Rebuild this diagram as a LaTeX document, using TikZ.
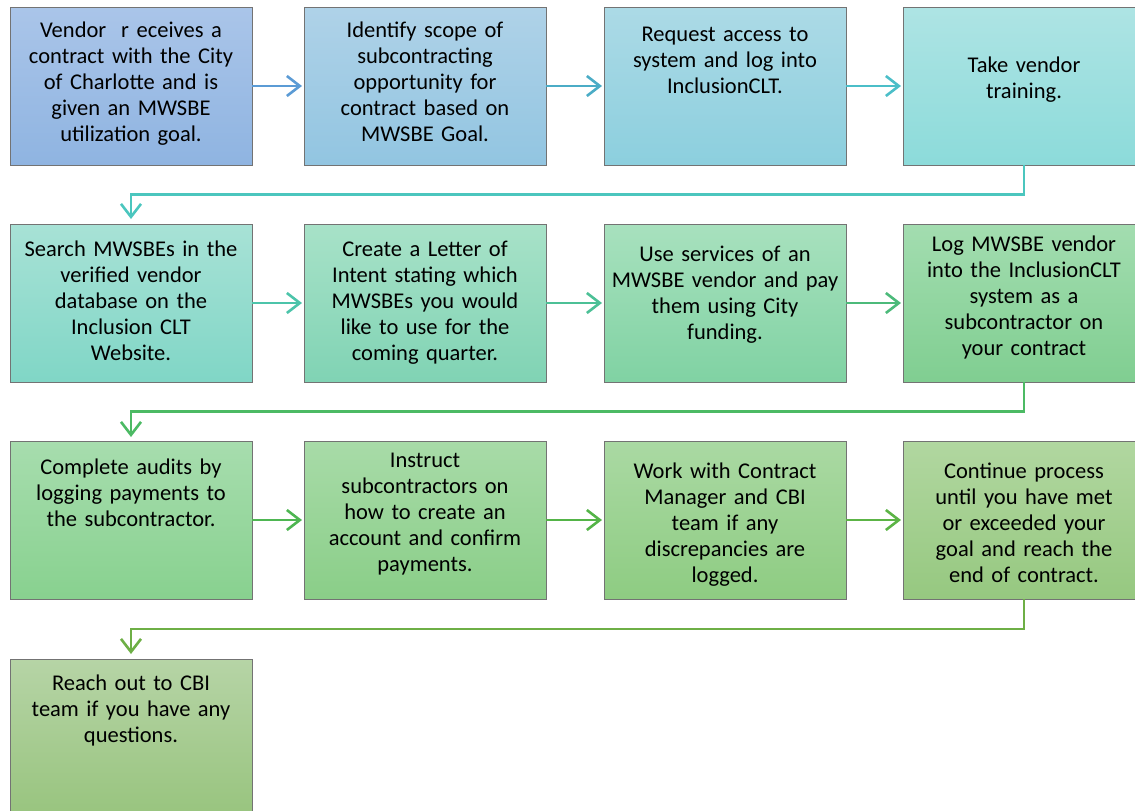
\documentclass[tikz,border=0pt]{standalone}
\usepackage{fontspec}
\setmainfont{Carlito}
\usepackage{tikz}
\usetikzlibrary{positioning,arrows.meta}

\definecolor{t1}{RGB}{170,197,233}\definecolor{u1}{RGB}{143,180,225}
\definecolor{t2}{RGB}{175,210,232}\definecolor{u2}{RGB}{146,197,225}
\definecolor{t3}{RGB}{172,218,230}\definecolor{u3}{RGB}{140,207,222}
\definecolor{t4}{RGB}{174,228,228}\definecolor{u4}{RGB}{140,219,218}
\definecolor{t5}{RGB}{168,226,214}\definecolor{u5}{RGB}{128,214,198}
\definecolor{t6}{RGB}{168,226,200}\definecolor{u6}{RGB}{128,211,180}
\definecolor{t7}{RGB}{168,225,190}\definecolor{u7}{RGB}{128,210,163}
\definecolor{t8}{RGB}{163,221,176}\definecolor{u8}{RGB}{128,206,145}
\definecolor{t9}{RGB}{167,221,174}\definecolor{u9}{RGB}{136,209,143}
\definecolor{t10}{RGB}{168,219,168}\definecolor{u10}{RGB}{138,206,136}
\definecolor{t11}{RGB}{170,217,163}\definecolor{u11}{RGB}{142,204,130}
\definecolor{t12}{RGB}{177,215,160}\definecolor{u12}{RGB}{150,200,128}
\definecolor{t13}{RGB}{182,212,166}\definecolor{u13}{RGB}{152,196,126}
\definecolor{a1}{RGB}{91,155,213}\definecolor{a2}{RGB}{75,172,198}
\definecolor{a3}{RGB}{75,190,200}\definecolor{a4}{RGB}{75,198,190}
\definecolor{a5}{RGB}{76,196,170}\definecolor{a6}{RGB}{76,192,150}
\definecolor{a7}{RGB}{76,186,122}\definecolor{a8}{RGB}{76,186,100}
\definecolor{a9}{RGB}{78,182,82}\definecolor{a10}{RGB}{84,180,72}
\definecolor{a11}{RGB}{92,180,70}\definecolor{a12}{RGB}{110,175,70}

\begin{document}
\begin{tikzpicture}[
x=1pt, y=1pt,
stepbox/.style={rectangle, draw=black!55, line width=0.8pt, inner sep=0pt, outer sep=0pt,
  minimum width=242pt, minimum height=158pt},
steptext/.style={text width=240pt, align=center, inner sep=0pt,
  font=\fontsize{22.5}{26}\selectfont},
flow/.style={line width=2.6pt, -{Straight Barb[length=13pt,width=20pt,line width=2.6pt]}, shorten >=2pt}]

\useasboundingbox (0,0) rectangle (1135,-811);

% row 1
\node[stepbox, top color=t1, bottom color=u1] (b1) at (131,-86) {};
\node[stepbox, top color=t2, bottom color=u2] (b2) [right=52pt of b1] {};
\node[stepbox, top color=t3, bottom color=u3] (b3) [right=58pt of b2] {};
\node[stepbox, top color=t4, bottom color=u4] (b4) [right=57pt of b3] {};
% row 2
\node[stepbox, top color=t5, bottom color=u5] (b5) [below=59pt of b1] {};
\node[stepbox, top color=t6, bottom color=u6] (b6) [below=59pt of b2] {};
\node[stepbox, top color=t7, bottom color=u7] (b7) [below=59pt of b3] {};
\node[stepbox, top color=t8, bottom color=u8] (b8) [below=59pt of b4] {};
% row 3
\node[stepbox, top color=t9, bottom color=u9] (b9) [below=59pt of b5] {};
\node[stepbox, top color=t10, bottom color=u10] (b10) [below=59pt of b6] {};
\node[stepbox, top color=t11, bottom color=u11] (b11) [below=59pt of b7] {};
\node[stepbox, top color=t12, bottom color=u12] (b12) [below=59pt of b8] {};
% row 4
\node[stepbox, top color=t13, bottom color=u13] (b13) [below=60pt of b9] {};

\node[steptext] (l1) [below=15pt of b1.north] {Vendor\ \ r eceives a\\contract with the City\\of Charlotte and is\\given an MWSBE\\utilization goal.};
\node[steptext] (l2) [below=15pt of b2.north] {Identify scope of\\subcontracting\\opportunity for\\contract based on\\MWSBE Goal.};
\node[steptext] (l3) [below=20pt of b3.north] {Request access to\\system and log into\\InclusionCLT.};
\node[steptext] (l4) [below=50pt of b4.north] {Take vendor\\training.};
\node[steptext] (l5) [below=17pt of b5.north] {Search MWSBEs in the\\verified vendor\\database on the\\Inclusion CLT\\Website.};
\node[steptext] (l6) [below=17pt of b6.north] {Create a Letter of\\Intent stating which\\MWSBEs you would\\like to use for the\\coming quarter.};
\node[steptext] (l7) [below=22pt of b7.north] {Use services of an\\MWSBE vendor and pay\\them using City\\funding.};
\node[steptext] (l8) [below=12pt of b8.north] {Log MWSBE vendor\\into the InclusionCLT\\system as a\\subcontractor on\\your contract};
\node[steptext] (l9) [below=18pt of b9.north] {Complete audits by\\logging payments to\\the subcontractor.};
\node[steptext] (l10) [below=12pt of b10.north] {Instruct\\subcontractors on\\how to create an\\account and confirm\\payments.};
\node[steptext] (l11) [below=22pt of b11.north] {Work with Contract\\Manager and CBI\\team if any\\discrepancies are\\logged.};
\node[steptext] (l12) [below=22pt of b12.north] {Continue process\\until you have met\\or exceeded your\\goal and reach the\\end of contract.};
\node[steptext] (l13) [below=16pt of b13.north] {Reach out to CBI\\team if you have any\\questions.};

\draw[flow, a1] (b1) -- (b2);
\draw[flow, a2] (b2) -- (b3);
\draw[flow, a3] (b3) -- (b4);
\draw[flow, a4, shorten >=5pt] (b4.south) -- ++(0,-29.5) -| (b5.north);

\draw[flow, a5] (b5) -- (b6);
\draw[flow, a6] (b6) -- (b7);
\draw[flow, a7] (b7) -- (b8);
\draw[flow, a8, shorten >=4pt] (b8.south) -- ++(0,-29.5) -| (b9.north);

\draw[flow, a9] (b9) -- (b10);
\draw[flow, a10] (b10) -- (b11);
\draw[flow, a11] (b11) -- (b12);
\draw[flow, a12, shorten >=5pt] (b12.south) -- ++(0,-30) -| (b13.north);
\end{tikzpicture}
\end{document}
